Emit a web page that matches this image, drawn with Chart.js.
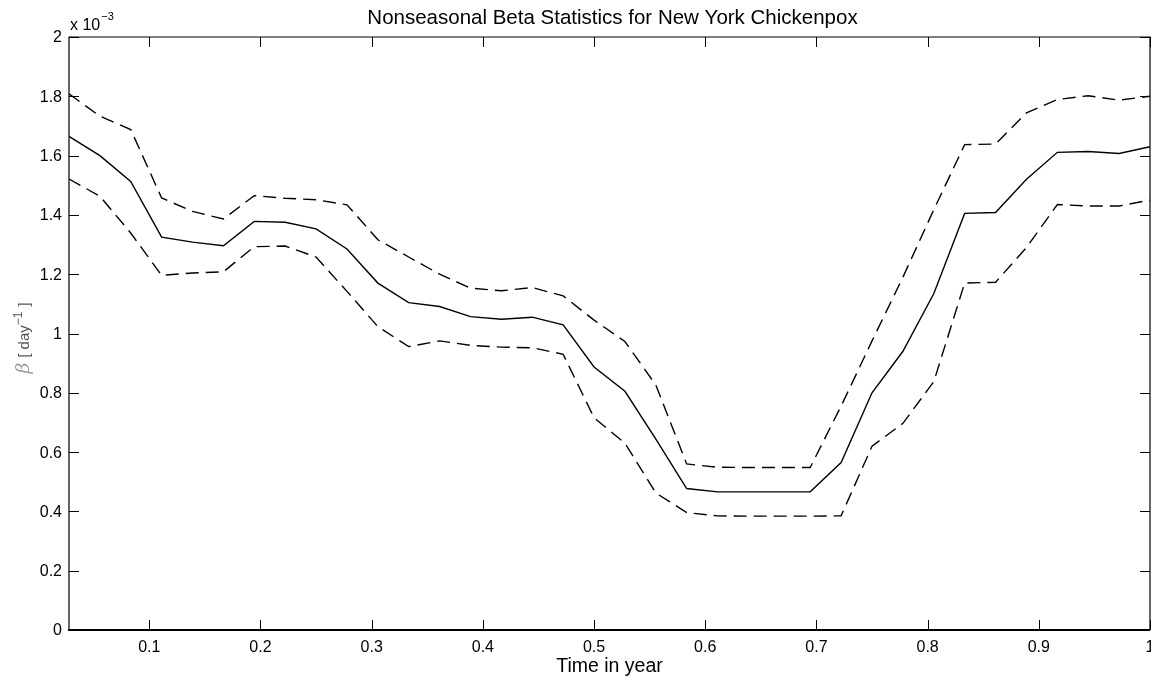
<!DOCTYPE html>
<html>
<head>
<meta charset="utf-8">
<script src="https://cdn.jsdelivr.net/npm/chart.js@4.4.1/dist/chart.umd.min.js"></script>
<style>
  html, body { margin: 0; padding: 0; background: #fff; }
  #wrap { width: 1151px; height: 681px; }
</style>
</head>
<body>
<div id="wrap"><canvas id="c" width="1151" height="681"></canvas></div>
<script>
// Time in year (sample points)
const times = [0.0278,0.0556,0.0833,0.1111,0.1389,0.1667,0.1944,0.2222,0.2500,0.2778,0.3056,0.3333,
  0.3611,0.3889,0.4167,0.4444,0.4722,0.5000,0.5278,0.5556,0.5833,0.6111,0.6389,0.6667,
  0.6944,0.7222,0.7500,0.7778,0.8056,0.8333,0.8611,0.8889,0.9167,0.9444,0.9722,1.0000];

// Beta values, in units of 1e-3 day^-1
const betaMean = [1.665,1.600,1.513,1.325,1.308,1.296,1.378,1.375,1.353,1.285,1.170,1.104,
  1.091,1.057,1.048,1.055,1.029,0.887,0.805,0.644,0.477,0.466,0.466,0.466,
  0.466,0.565,0.800,0.940,1.135,1.405,1.408,1.520,1.611,1.614,1.607,1.630];
const betaUpper = [1.808,1.733,1.688,1.457,1.412,1.386,1.465,1.456,1.451,1.434,1.316,1.258,
  1.200,1.153,1.144,1.155,1.127,1.045,0.973,0.826,0.560,0.549,0.548,0.548,
  0.548,0.755,0.975,1.190,1.418,1.637,1.639,1.744,1.789,1.802,1.787,1.800];
const betaLower = [1.521,1.463,1.339,1.196,1.204,1.208,1.293,1.295,1.258,1.142,1.023,0.956,
  0.975,0.960,0.954,0.952,0.930,0.716,0.630,0.462,0.396,0.385,0.384,0.384,
  0.384,0.385,0.620,0.697,0.838,1.170,1.173,1.290,1.435,1.430,1.430,1.450];

// Tick values and labels
const xTicks = [0.1,0.2,0.3,0.4,0.5,0.6,0.7,0.8,0.9,1];
const xTickLabels = ['0.1','0.2','0.3','0.4','0.5','0.6','0.7','0.8','0.9','1'];
const yTicks = [0,0.2,0.4,0.6,0.8,1,1.2,1.4,1.6,1.8,2];
const yTickLabels = ['0','0.2','0.4','0.6','0.8','1','1.2','1.4','1.6','1.8','2'];

const titleText = 'Nonseasonal Beta Statistics for New York Chickenpox';
const xLabelText = 'Time in year';

const FONT = '"Liberation Sans", Arial, Helvetica, sans-serif';

const toPts = (ys) => ys.map((v, i) => ({ x: times[i], y: v }));

const axesPlugin = {
  id: 'matlabAxes',
  afterDraw(chart) {
    const ctx = chart.ctx;
    const a = chart.chartArea;
    const xs = chart.scales.x, ys = chart.scales.y;
    ctx.save();
    ctx.strokeStyle = '#000';
    ctx.fillStyle = '#000';
    // box
    ctx.lineWidth = 1.2;
    ctx.beginPath();
    ctx.moveTo(a.left, a.bottom); ctx.lineTo(a.left, a.top); ctx.lineTo(a.right, a.top); ctx.lineTo(a.right, a.bottom);
    ctx.stroke();
    ctx.lineWidth = 2;
    ctx.beginPath();
    ctx.moveTo(a.left - 1, a.bottom); ctx.lineTo(a.right, a.bottom);
    ctx.stroke();
    // ticks inward
    const TL = 10;
    ctx.lineWidth = 1;
    ctx.beginPath();
    xTicks.forEach(v => {
      const px = Math.round(xs.getPixelForValue(v)) + 0.5;
      ctx.moveTo(px, a.bottom); ctx.lineTo(px, a.bottom - TL);
      ctx.moveTo(px, a.top); ctx.lineTo(px, a.top + TL);
    });
    yTicks.forEach(v => {
      const py = Math.round(ys.getPixelForValue(v)) + 0.5;
      ctx.moveTo(a.left, py); ctx.lineTo(a.left + TL, py);
      ctx.moveTo(a.right, py); ctx.lineTo(a.right - TL, py);
    });
    ctx.stroke();
    // tick labels
    ctx.font = '16px ' + FONT;
    ctx.textAlign = 'center';
    ctx.textBaseline = 'alphabetic';
    xTicks.forEach((v, i) => {
      ctx.fillText(xTickLabels[i], xs.getPixelForValue(v), a.bottom + 22);
    });
    ctx.textAlign = 'right';
    ctx.textBaseline = 'middle';
    yTicks.forEach((v, i) => {
      ctx.fillText(yTickLabels[i], a.left - 7, ys.getPixelForValue(v) + 1);
    });
    // exponent
    ctx.textAlign = 'left';
    ctx.textBaseline = 'alphabetic';
    ctx.font = '16px ' + FONT;
    ctx.fillText('x 10', a.left + 1, 29.5);
    const w10 = ctx.measureText('x 10').width;
    ctx.font = '11px ' + FONT;
    ctx.fillText('\u22123', a.left + 1 + w10 + 1, 20);
    // title
    ctx.font = '20.5px ' + FONT;
    ctx.textAlign = 'center';
    ctx.fillText(titleText, (a.left + a.right) / 2 + 3, 23.5);
    // x label
    ctx.font = '19.5px ' + FONT;
    ctx.fillText(xLabelText, (a.left + a.right) / 2, 672);
    // y label (rotated)
    ctx.translate(29, 338);
    ctx.rotate(-Math.PI / 2);
    const parts = [
      { t: '\u03B2', f: 'italic 19px "DejaVu Serif", "Liberation Serif", serif', c: '#9a9a9a', dy: 0, gap: 5 },
      { t: '[', f: '15px ' + FONT, c: '#555', dy: 0, gap: 4 },
      { t: 'day', f: '15px ' + FONT, c: '#555', dy: 0, gap: 0 },
      { t: '\u22121', f: '12px ' + FONT, c: '#555', dy: -7, gap: 5 },
      { t: ']', f: '15px ' + FONT, c: '#555', dy: 0, gap: 0 }
    ];
    let total = 0;
    parts.forEach(p => { ctx.font = p.f; p.w = ctx.measureText(p.t).width; total += p.w + p.gap; });
    let cx = -total / 2;
    ctx.textAlign = 'left';
    parts.forEach(p => {
      ctx.font = p.f; ctx.fillStyle = p.c;
      ctx.fillText(p.t, cx, p.dy);
      cx += p.w + p.gap;
    });
    ctx.restore();
  }
};

new Chart(document.getElementById('c'), {
  type: 'line',
  data: {
    datasets: [
      { label: 'mean', data: toPts(betaMean), borderColor: '#000', borderWidth: 1.4, pointRadius: 0, tension: 0, fill: false },
      { label: 'upper', data: toPts(betaUpper), borderColor: '#000', borderWidth: 1.4, borderDash: [13, 7], pointRadius: 0, tension: 0, fill: false },
      { label: 'lower', data: toPts(betaLower), borderColor: '#000', borderWidth: 1.4, borderDash: [13, 7], pointRadius: 0, tension: 0, fill: false }
    ]
  },
  options: {
    responsive: false,
    animation: false,
    events: [],
    layout: { padding: { left: 69, right: 1, top: 37, bottom: 51 } },
    plugins: { legend: { display: false }, tooltip: { enabled: false }, title: { display: false } },
    scales: {
      x: { type: 'linear', display: false, min: times[0], max: 1 },
      y: { type: 'linear', display: false, min: 0, max: 2 }
    }
  },
  plugins: [axesPlugin]
});
</script>
</body>
</html>
